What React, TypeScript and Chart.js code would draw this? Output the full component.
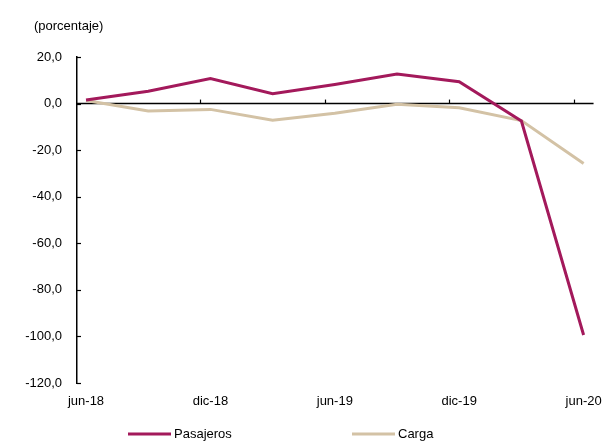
import React, { useEffect, useRef } from "react";
import { Chart, registerables } from "chart.js";

Chart.register(...registerables);

// Quarterly periods (jun-18 .. jun-20)
const periods = ["jun-18", "sep-18", "dic-18", "mar-19", "jun-19", "sep-19", "dic-19", "mar-20", "jun-20"];
// Annual variation, percent
const pasajeros = [1.5, 5.3, 10.8, 4.2, 8.2, 12.7, 9.4, -7.5, -99.4];
const carga = [1.3, -3.2, -2.5, -7.2, -4.2, -0.3, -1.8, -7.3, -25.7];
const seriesNames = ["Pasajeros", "Carga"];
const unitLabel = "(porcentaje)";
const yMin = -120;
const yMax = 20;
const yStep = 20;

const COLOR_PAS = "#A3195B";
const COLOR_CAR = "#D3C2A5";
const FONT = "'Liberation Sans', Arial, sans-serif";

const fmt = (v: number) => v.toFixed(1).replace(".", ",");

const decorPlugin = {
  id: "decor",
  beforeDatasetsDraw(chart: any) {
    const { ctx, chartArea, scales } = chart;
    const x = scales.x;
    const y = scales.y;
    const y0 = y.getPixelForValue(0);
    ctx.save();
    ctx.strokeStyle = "#000";
    ctx.lineWidth = 1.5;
    // horizontal axis at zero
    ctx.beginPath();
    ctx.moveTo(chartArea.left, y0);
    ctx.lineTo(chartArea.right, y0);
    ctx.stroke();
    // tick marks on the zero axis (every two quarters)
    ctx.lineWidth = 1.2;
    for (let i = 2; i < periods.length; i += 2) {
      const px = Math.round(x.getPixelForValue(i - 0.16)) + 0.5;
      ctx.beginPath();
      ctx.moveTo(px, y0);
      ctx.lineTo(px, y0 - 4);
      ctx.stroke();
    }
    // inward tick marks on the value axis
    for (let v = yMin; v <= yMax; v += yStep) {
      const py = Math.round(y.getPixelForValue(v)) + 0.5;
      ctx.beginPath();
      ctx.moveTo(chartArea.left, py);
      ctx.lineTo(chartArea.left + 4, py);
      ctx.stroke();
    }
    ctx.restore();
  },
  afterDraw(chart: any) {
    const { ctx } = chart;
    ctx.save();
    ctx.fillStyle = "#000";
    ctx.font = `13px ${FONT}`;
    ctx.textBaseline = "middle";
    ctx.textAlign = "left";
    ctx.fillText(unitLabel, 34, 26);
    // legend
    const legendY = 434;
    const items = [
      { x: 128, color: COLOR_PAS, label: seriesNames[0] },
      { x: 352, color: COLOR_CAR, label: seriesNames[1] },
    ];
    items.forEach((it) => {
      ctx.strokeStyle = it.color;
      ctx.lineWidth = 3;
      ctx.beginPath();
      ctx.moveTo(it.x, legendY);
      ctx.lineTo(it.x + 43, legendY);
      ctx.stroke();
      ctx.fillText(it.label, it.x + 46, legendY);
    });
    ctx.restore();
  },
};

export default function App() {
  const ref = useRef<HTMLCanvasElement | null>(null);

  useEffect(() => {
    document.body.style.margin = "0";
    if (!ref.current) return;
    const chart = new Chart(ref.current, {
      type: "line",
      data: {
        datasets: [
          {
            label: seriesNames[0],
            data: pasajeros.map((v, i) => ({ x: i, y: v })),
            borderColor: COLOR_PAS,
            borderWidth: 3,
            pointRadius: 0,
            tension: 0,
          },
          {
            label: seriesNames[1],
            data: carga.map((v, i) => ({ x: i, y: v })),
            borderColor: COLOR_CAR,
            borderWidth: 3,
            pointRadius: 0,
            tension: 0,
          },
        ],
      },
      options: {
        animation: false,
        responsive: false,
        events: [],
        layout: { padding: { top: 57, right: 17, left: 0, bottom: 0 } },
        plugins: {
          legend: { display: false },
          tooltip: { enabled: false },
        },
        scales: {
          x: {
            type: "linear",
            min: -0.145,
            max: 8.16,
            grid: { display: false, drawTicks: false },
            border: { display: false },
            afterBuildTicks: (scale: any) => {
              scale.ticks = periods
                .map((_, i) => i)
                .filter((i) => i % 2 === 0)
                .map((i) => ({ value: i }));
            },
            afterFit: (scale: any) => {
              scale.height = 62;
            },
            ticks: {
              autoSkip: false,
              maxRotation: 0,
              padding: 11,
              color: "#000",
              font: { family: FONT, size: 13 },
              callback: (v: any) => periods[Number(v)] ?? "",
            },
          },
          y: {
            min: yMin,
            max: yMax,
            grid: { display: false, drawTicks: false },
            border: { display: true, color: "#000", width: 1.5 },
            afterFit: (scale: any) => {
              scale.width = 77;
            },
            ticks: {
              stepSize: yStep,
              padding: 15,
              color: "#000",
              font: { family: FONT, size: 13 },
              callback: (v: any) => fmt(Number(v)),
            },
          },
        },
      },
      plugins: [decorPlugin],
    });
    return () => chart.destroy();
  }, []);

  return (
    <div style={{ width: 613, height: 445, background: "#fff" }}>
      <canvas ref={ref} width={613} height={445} />
    </div>
  );
}
